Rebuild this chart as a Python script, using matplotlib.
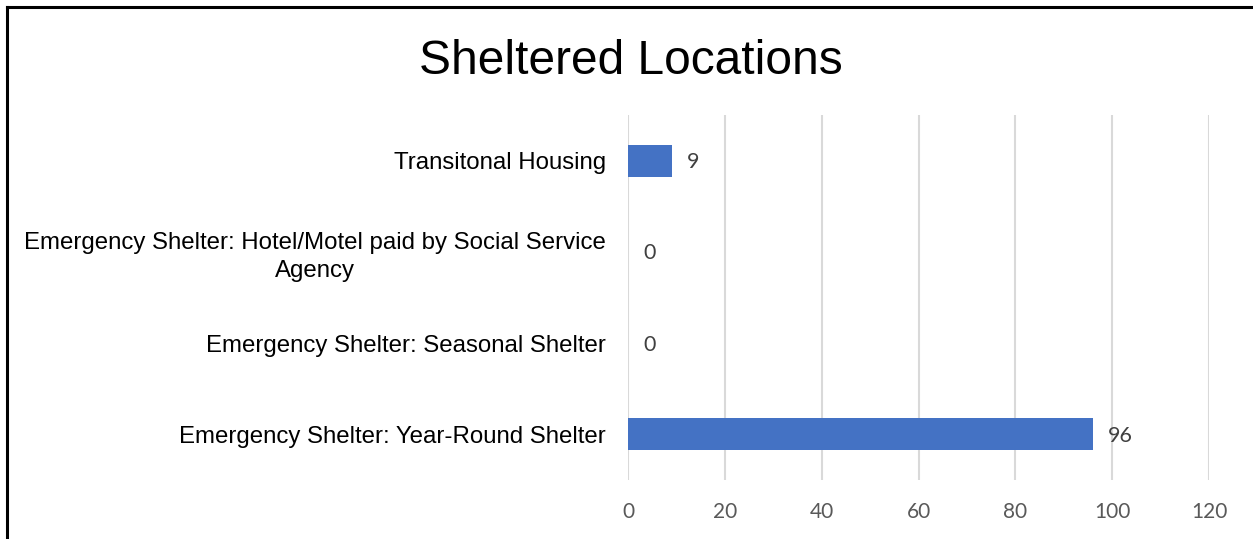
import matplotlib
matplotlib.use("Agg")
import matplotlib.pyplot as plt
from matplotlib.lines import Line2D


# Значения с картинки, снизу вверх
CATEGORIES = [
    "Emergency Shelter: Year-Round Shelter",
    "Emergency Shelter: Seasonal Shelter",
    "Emergency Shelter: Hotel/Motel paid by Social Service\nAgency",
    "Transitonal Housing",
]
VALUES = [96, 0, 0, 9]
X_TICKS = [0, 20, 40, 60, 80, 100, 120]

BAR_COLOR = "#4472C4"
GRID_COLOR = "#D9D9D9"
TEXT_GRAY = "#595959"

W, H = 1253, 539

fig = plt.figure(figsize=(W / 100, H / 100), dpi=100)
ax = fig.add_axes([628 / W, 1 - 480 / H, (1209 - 628) / W, (480 - 115) / H])

positions = list(range(len(CATEGORIES)))
ax.barh(positions, VALUES, height=0.35, color=BAR_COLOR, zorder=3)
ax.set_ylim(-0.5, len(CATEGORIES) - 0.5)
ax.set_xlim(0, 120)

ax.set_xticks(X_TICKS)
ax.set_xticklabels([str(t) for t in X_TICKS], family="Lato", fontsize=15, color=TEXT_GRAY)
ax.set_yticks(positions)
ax.set_yticklabels(CATEGORIES, family="Liberation Sans", fontsize=17.3, color="black",
                   multialignment="center", linespacing=1.35)
ax.tick_params(axis="x", length=0, pad=16)
ax.tick_params(axis="y", length=0, pad=16)

ax.grid(axis="x", color=GRID_COLOR, linewidth=1.5, zorder=0)
for side in ax.spines.values():
    side.set_visible(False)

# подписи значений
for pos, val in zip(positions, VALUES):
    ax.annotate(str(val), xy=(val, pos), xytext=(11, -1), textcoords="offset points",
                ha="left", va="center", family="Lato", fontsize=15.5, color="#404040")

fig.text(631 / W, 1 - 61 / H, "Sheltered Locations", ha="center", va="center",
         family="Liberation Sans", fontsize=34.5, color="black")

# рамка: только левая и верхняя стороны видны
fig.add_artist(Line2D([7 / W, 7 / W], [0, 1 - 7 / H], color="black", linewidth=2.2,
                      transform=fig.transFigure))
fig.add_artist(Line2D([7 / W, 1], [1 - 7 / H, 1 - 7 / H], color="black", linewidth=2.2,
                      transform=fig.transFigure))

fig.savefig("out.png", dpi=100, facecolor="white")
